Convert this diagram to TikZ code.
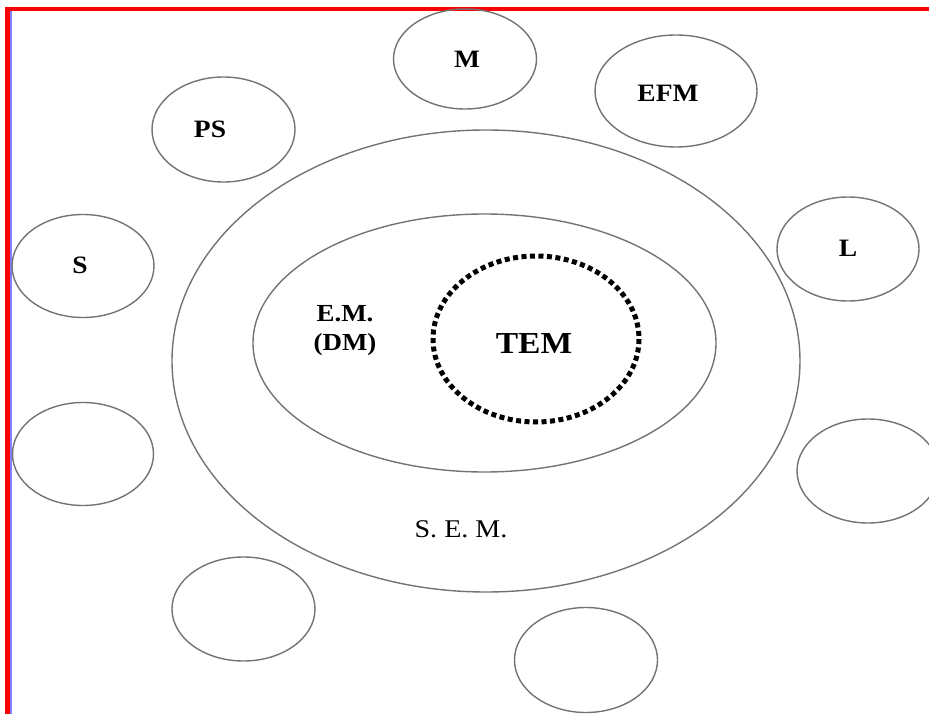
\documentclass[tikz,border=0pt]{standalone}
\usepackage{fontspec}
\setmainfont{Liberation Serif}
\begin{document}
\begin{tikzpicture}[x=1pt,y=-1pt,
  ring/.style={draw=black!55,line width=1.4pt},
  lbl/.style={font=\bfseries\fontsize{25}{29}\selectfont,inner sep=0pt,align=center,xscale=1.1},
  tem/.style={draw=black,line width=5pt,dash pattern=on 5pt off 3.5pt}]
\useasboundingbox (0,0) rectangle (929,714);
\begin{scope}
\clip (0,0) rectangle (929,714);
% frame
\fill[red] (5,7) rectangle (929,11);
\fill[red] (5,7) rectangle (10,714);
\fill[blue!50] (10,11) rectangle (11.5,714);

% nested regions
\draw[ring] (486,361) ellipse [x radius=314,y radius=231];
\draw[ring] (484.5,343) ellipse [x radius=231.5,y radius=129];
\draw[tem] (536,339) ellipse [x radius=103,y radius=83];

% surrounding satellites
\draw[ring] (465,59) ellipse [x radius=71.5,y radius=50];
\draw[ring] (676,91) ellipse [x radius=81,y radius=56];
\draw[ring] (223.5,129.5) ellipse [x radius=71.5,y radius=52.5];
\draw[ring] (83,266) ellipse [x radius=71,y radius=51.5];
\draw[ring] (848,249) ellipse [x radius=71,y radius=52];
\draw[ring] (83,454) ellipse [x radius=70.5,y radius=51.5];
\draw[ring] (868,471) ellipse [x radius=71,y radius=52];
\draw[ring] (243.5,609) ellipse [x radius=71.5,y radius=52];
\draw[ring] (586,660) ellipse [x radius=71.5,y radius=52.5];
\end{scope}

% labels
\node[lbl] (m) at (467,59) {M};
\node[lbl] (efm) at (668,93) {EFM};
\node[lbl] (ps) at (210,129) {PS};
\node[lbl] (s) at (80,265) {S};
\node[lbl] (l) at (848,248) {L};
\node[lbl,font=\bfseries\fontsize{24.5}{29}\selectfont] (em) at (345,331) {E.M.\\(DM)};
\node[lbl,font=\bfseries\fontsize{30.5}{34}\selectfont] (temlbl) at (534,344) {TEM};
\node[lbl,font=\fontsize{25.5}{28}\selectfont] (sem) at (461,529) {S. E. M.};
\end{tikzpicture}
\end{document}
